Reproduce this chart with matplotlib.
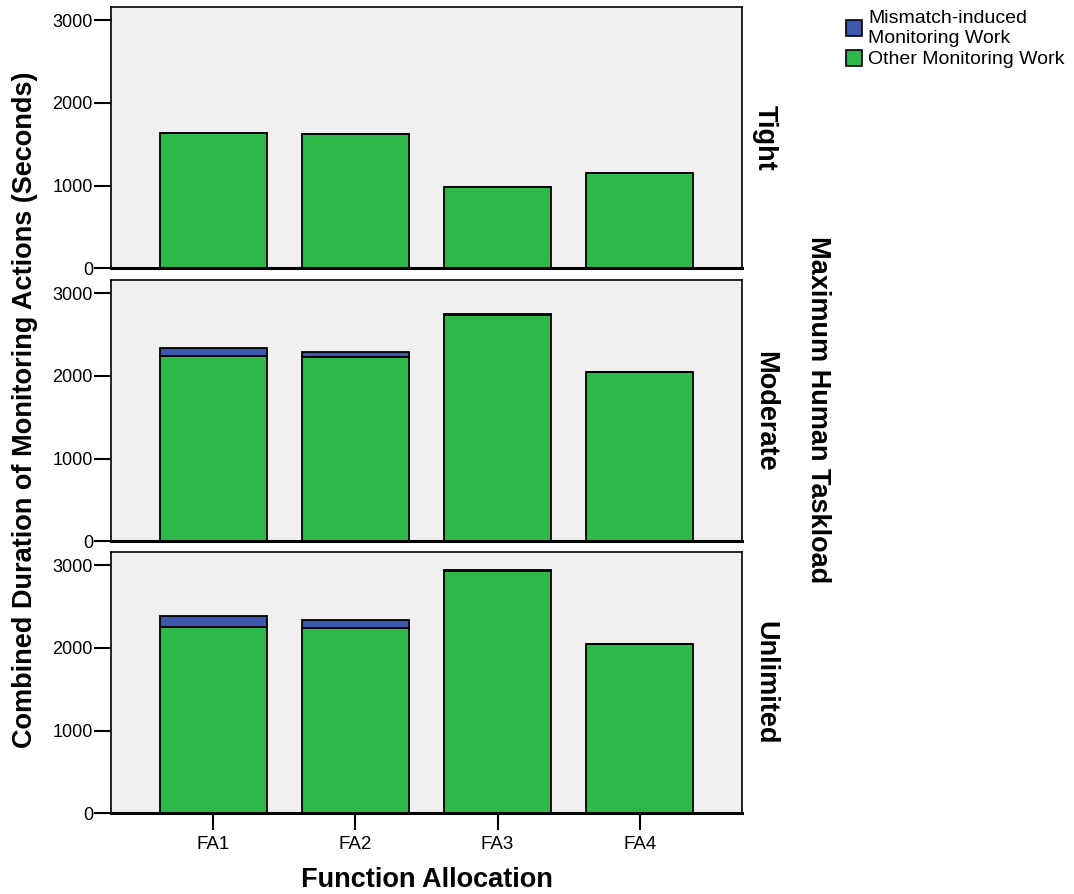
import numpy as np
import matplotlib.pyplot as plt
from matplotlib.patches import Patch

plt.rcParams['font.family'] = ['Liberation Sans', 'DejaVu Sans']

allocations = ['FA1', 'FA2', 'FA3', 'FA4']
taskloads = ['Tight', 'Moderate', 'Unlimited']

# other monitoring work (green) and mismatch-induced work (blue), seconds
other_work = {
    'Tight': [1639, 1619, 977, 1147],
    'Moderate': [2238, 2230, 2738, 2044],
    'Unlimited': [2247, 2240, 2925, 2046],
}
mismatch_work = {
    'Tight': [0, 0, 0, 0],
    'Moderate': [97, 64, 12, 0],
    'Unlimited': [133, 100, 16, 0],
}

green = '#2fb84a'
blue = '#3e59ab'
bg = '#f0f0f0'

W, H = 1074, 894
fig = plt.figure(figsize=(W / 100, H / 100), dpi=100)

left = 111 / W
width = 631 / W
bottoms_px = [268.3, 541.4, 813.3]
panel_h = 261 / H

x = np.arange(len(allocations))
for i, (tl, bpx) in enumerate(zip(taskloads, bottoms_px)):
    ax = fig.add_axes([left, 1 - bpx / H, width, panel_h])
    ax.set_facecolor(bg)
    g = np.array(other_work[tl])
    m = np.array(mismatch_work[tl])
    ax.bar(x, g, width=0.75, color=green, edgecolor='black', linewidth=1.3, zorder=2)
    ax.bar(x, m, bottom=g, width=0.75, color=blue, edgecolor='black', linewidth=1.3, zorder=2)
    ax.set_xlim(-0.72, 3.72)
    ax.set_ylim(0, 3155)
    ax.set_yticks([0, 1000, 2000, 3000])
    ax.tick_params(axis='y', direction='out', length=12, width=1.5, labelsize=13, pad=1)
    for s in ['top', 'left', 'right']:
        ax.spines[s].set_linewidth(1.2)
    ax.spines['bottom'].set_linewidth(2.2)
    ax.text(1.0365, 0.5, tl, transform=ax.transAxes, rotation=-90, ha='center', va='center',
            fontsize=19.5, fontweight='bold')
    if i < 2:
        ax.set_xticks([])
    else:
        ax.set_xticks(x)
        ax.set_xticklabels(allocations)
        ax.tick_params(axis='x', direction='out', length=12, width=1.5, labelsize=13.5, pad=4)

fig.text(25 / W, 1 - 410 / H, 'Combined Duration of Monitoring Actions (Seconds)', rotation=90,
         ha='center', va='center', fontsize=19.5, fontweight='bold')
fig.text(818 / W, 1 - 410 / H, 'Maximum Human Taskload', rotation=-90,
         ha='center', va='center', fontsize=19.5, fontweight='bold')
fig.text(427 / W, 1 - 880 / H, 'Function Allocation', ha='center', va='center',
         fontsize=19.5, fontweight='bold')

handles = [Patch(facecolor=blue, edgecolor='black', linewidth=1.2),
           Patch(facecolor=green, edgecolor='black', linewidth=1.2)]
fig.legend(handles, ['Mismatch-induced\nMonitoring Work', 'Other Monitoring Work'],
           loc='upper left', bbox_to_anchor=(846 / W, 1 - 10 / H), frameon=False,
           fontsize=14, handlelength=0.8, handleheight=0.9, handletextpad=0.35,
           labelspacing=0.15, borderaxespad=0, borderpad=0)

fig.savefig('out.png', dpi=100)
